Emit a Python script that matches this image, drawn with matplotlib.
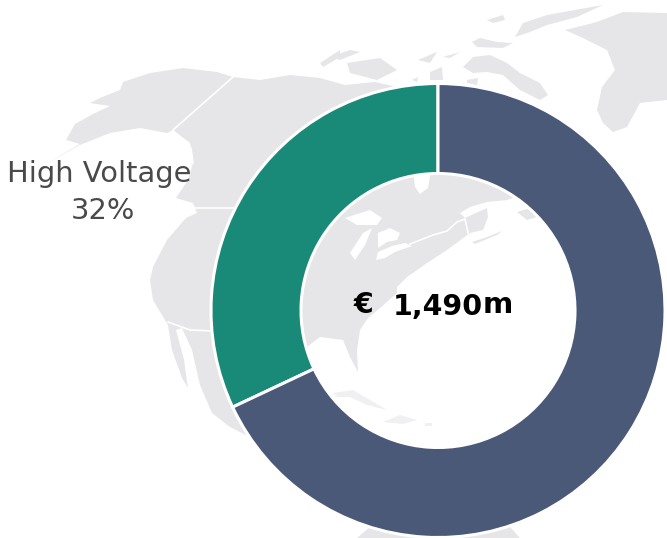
"""Donut of revenue split over a faint North America map."""
import matplotlib
matplotlib.use('Agg')
import matplotlib.pyplot as plt
from matplotlib.patches import Polygon

W, H = 667, 538

# ---- chart data ----
segments = ['High Voltage', 'Other']
shares = [32, 68]
total_parts = ['€', '1,490', 'm']

# ---- colours ----
GREEN = '#1a8a78'
NAVY = '#4b5979'
LAND = '#e6e6e8'
LAND_FAINT = '#f0f0f2'
GREY_TEXT = '#4a4a4a'

# ---- background map, in picture pixels (y down) ----
mainland = [(48, 163), (80, 144), (66, 140), (75, 124), (93, 114), (110, 106), (90, 103), (100, 98),
            (120, 90), (123, 82), (150, 73), (183, 68), (217, 72), (233, 77), (260, 80), (290, 75),
            (320, 78), (345, 85), (375, 82), (410, 90), (440, 90), (450, 120), (470, 150), (513, 198),
            (507, 200), (487, 202), (470, 207), (460, 213), (465, 218), (487, 208), (488, 217),
            (483, 230), (470, 233), (447, 250), (427, 263), (407, 277), (397, 287), (397, 293),
            (380, 308), (368, 318), (360, 330), (357, 350), (358, 372), (350, 357),
            (343, 340), (320, 337), (307, 347), (290, 380), (290, 420), (310, 470), (250, 437),
            (230, 427), (212, 413), (200, 385), (192, 350), (182, 328), (176, 330), (184, 360),
            (188, 388), (182, 378), (172, 350), (168, 325), (153, 300),
            (150, 280), (153, 267), (167, 240), (186, 218), (197, 213), (193, 203), (176, 198),
            (188, 180), (193, 163), (190, 143), (173, 130), (167, 133), (140, 128), (110, 133),
            (80, 145)]
greenland = [(565, 30), (597, 22), (623, 12), (667, 13), (667, 100), (640, 103), (627, 127),
             (613, 132), (603, 123), (597, 110), (602, 87), (615, 70), (607, 50), (583, 38)]
islands = [
    [(463, 67), (473, 57), (490, 55), (507, 63), (520, 73), (540, 83), (548, 95), (540, 100),
     (520, 90), (503, 75), (487, 72), (473, 73)],
    [(515, 37), (523, 23), (547, 15), (603, 5), (577, 17), (547, 25), (530, 32)],
    [(472, 42), (480, 38), (497, 42), (513, 43), (503, 48), (477, 47)],
    [(487, 20), (503, 15), (505, 20), (493, 23)],
    [(347, 63), (380, 58), (397, 70), (377, 80), (350, 73)],
    [(330, 57), (350, 50), (360, 52), (340, 60)],
    [(418, 60), (437, 52), (430, 63)],
    [(443, 57), (460, 52), (450, 58)],
    [(430, 72), (442, 67), (443, 80), (430, 80)],
    [(467, 80), (478, 78), (477, 85), (467, 83)],
    [(412, 80), (418, 77), (417, 82)],
    [(320, 63), (340, 50), (340, 57), (323, 67)],
    [(517, 212), (530, 208), (537, 217), (527, 220)],
    [(472, 242), (487, 237), (502, 231), (497, 235), (475, 244)],
    [(357, 538), (370, 527), (420, 532), (510, 527), (520, 538)],
]
faint_islands = [
    [(333, 393), (353, 390), (370, 400), (387, 410), (367, 405), (350, 397), (337, 397)],
    [(383, 422), (400, 415), (417, 420), (403, 424)],
    [(425, 423), (432, 423), (432, 426), (425, 426)],
]
# white water cut out of the land
waters = [
    [(413, 170), (431, 170), (428, 188), (420, 194), (415, 187)],
    [(345, 218), (370, 210), (382, 218), (377, 225), (357, 225)],
    [(350, 253), (363, 233), (372, 228), (365, 245), (355, 260)],
    [(378, 233), (390, 228), (400, 233), (397, 240), (387, 242), (378, 248)],
    [(376, 260), (378, 252), (392, 246), (405, 243), (412, 246), (395, 252), (385, 258)],
]
borders = [
    [(233, 77), (173, 130), (180, 140), (191, 148), (193, 163)],
    [(193, 208), (240, 208)],
    [(168, 322), (190, 330), (214, 331)],
    [(410, 244), (433, 235), (447, 231), (457, 222), (465, 219), (467, 228), (468, 233)],
]


def flip(points):
    return [(x, H - y) for x, y in points]


fig = plt.figure(figsize=(W / 100, H / 100), dpi=100, facecolor='white')
ax = fig.add_axes([0, 0, 1, 1])

# map layer
ax.add_patch(Polygon(flip(mainland), fc=LAND, ec='none', zorder=0))
ax.add_patch(Polygon(flip(greenland), fc=LAND, ec='none', zorder=0))
for pts in islands:
    ax.add_patch(Polygon(flip(pts), fc=LAND, ec='none', zorder=0))
for pts in faint_islands:
    ax.add_patch(Polygon(flip(pts), fc=LAND_FAINT, ec='none', zorder=0))
for pts in waters:
    ax.add_patch(Polygon(flip(pts), fc='white', ec='none', zorder=0.1))
for pts in borders:
    xs, ys = zip(*flip(pts))
    ax.plot(xs, ys, color='white', lw=1.2, zorder=0.2)

# donut
ax.pie(shares, colors=[GREEN, NAVY], startangle=90, counterclock=True,
       center=(438, H - 310.5), radius=227,
       wedgeprops=dict(width=90, edgecolor='white', linewidth=2.2))

ax.set_xlim(0, W)
ax.set_ylim(0, H)
ax.set_aspect('auto')
ax.axis('off')

# labels
ax.text(99, H - 174, segments[0], ha='center', va='center', fontsize=20.8, color=GREY_TEXT)
ax.text(103, H - 211, f'{shares[0]}%', ha='center', va='center', fontsize=20.8, color=GREY_TEXT)

ax.text(363, H - 305, total_parts[0], ha='center', va='center', fontsize=20.5, fontweight='bold', color='black')
ax.text(437.5, H - 307, total_parts[1], ha='center', va='center', fontsize=20.5, fontweight='bold', color='black')
ax.text(498, H - 305, total_parts[2], ha='center', va='center', fontsize=21, fontweight='bold', color='black')

fig.savefig('out.png', dpi=100, facecolor='white')
